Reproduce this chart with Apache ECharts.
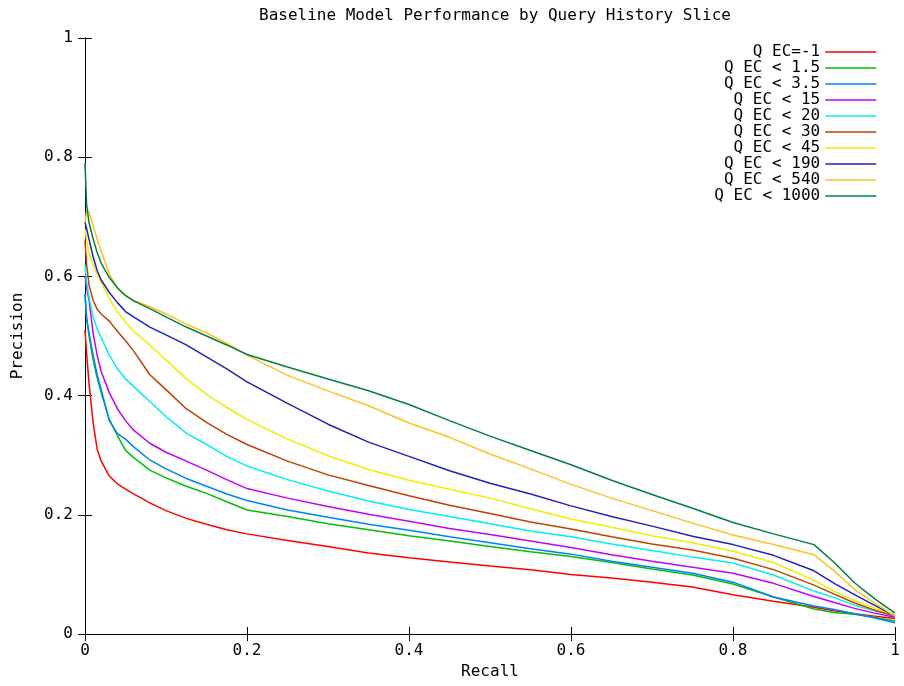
<!DOCTYPE html>
<html>
<head>
<meta charset="utf-8">
<script src="https://cdn.jsdelivr.net/npm/echarts@6/dist/echarts.min.js"></script>
<style>html,body{margin:0;padding:0;background:#fff;}#chart{width:904px;height:686px;}</style>
</head>
<body>
<div id="chart"></div>
<script>
var recall = [0, 0.002, 0.005, 0.01, 0.015, 0.02, 0.03, 0.04, 0.05, 0.06, 0.08, 0.1, 0.125, 0.15, 0.175, 0.2, 0.25, 0.3, 0.35, 0.4, 0.45, 0.5, 0.55, 0.6, 0.65, 0.7, 0.75, 0.8, 0.85, 0.9, 0.925, 0.95, 0.975, 1.0];

var seriesNames = ['Q EC=-1', 'Q EC < 1.5', 'Q EC < 3.5', 'Q EC < 15', 'Q EC < 20', 'Q EC < 30', 'Q EC < 45', 'Q EC < 190', 'Q EC < 540', 'Q EC < 1000'];
var seriesColors = ['#ff0000', '#00c000', '#0080ff', '#c000ff', '#00eeee', '#c04000', '#eeee00', '#2020c0', '#ffc020', '#008040'];

var precEcM1 = [0.51, 0.47, 0.42, 0.355, 0.31, 0.29, 0.265, 0.252, 0.243, 0.235, 0.22, 0.207, 0.194, 0.184, 0.175, 0.168, 0.157, 0.147, 0.136, 0.128, 0.121, 0.114, 0.108, 0.1, 0.094, 0.087, 0.079, 0.066, 0.055, 0.045, 0.039, 0.034, 0.03, 0.026];
var precEc1_5 = [0.57, 0.53, 0.5, 0.46, 0.43, 0.405, 0.36, 0.333, 0.308, 0.296, 0.275, 0.262, 0.248, 0.236, 0.222, 0.208, 0.197, 0.185, 0.175, 0.165, 0.156, 0.147, 0.138, 0.13, 0.12, 0.109, 0.099, 0.084, 0.062, 0.042, 0.036, 0.033, 0.028, 0.022];
var precEc3_5 = [0.57, 0.53, 0.505, 0.468, 0.435, 0.41, 0.358, 0.336, 0.327, 0.314, 0.292, 0.277, 0.261, 0.248, 0.235, 0.224, 0.208, 0.196, 0.184, 0.174, 0.163, 0.153, 0.143, 0.134, 0.122, 0.112, 0.102, 0.087, 0.062, 0.047, 0.041, 0.034, 0.027, 0.019];
var precEc15 = [0.6, 0.58, 0.56, 0.505, 0.468, 0.44, 0.405, 0.378, 0.358, 0.342, 0.32, 0.305, 0.29, 0.275, 0.259, 0.244, 0.228, 0.214, 0.201, 0.189, 0.177, 0.167, 0.156, 0.145, 0.133, 0.122, 0.112, 0.102, 0.085, 0.063, 0.053, 0.043, 0.035, 0.028];
var precEc20 = [0.62, 0.59, 0.565, 0.532, 0.512, 0.497, 0.468, 0.445, 0.428, 0.415, 0.39, 0.365, 0.337, 0.318, 0.298, 0.282, 0.259, 0.24, 0.223, 0.209, 0.197, 0.185, 0.173, 0.163, 0.151, 0.14, 0.129, 0.119, 0.099, 0.072, 0.061, 0.048, 0.039, 0.03];
var precEc30 = [0.66, 0.62, 0.585, 0.56, 0.545, 0.537, 0.525, 0.508, 0.492, 0.475, 0.435, 0.41, 0.378, 0.355, 0.335, 0.318, 0.29, 0.267, 0.249, 0.232, 0.216, 0.202, 0.188, 0.176, 0.163, 0.151, 0.141, 0.127, 0.108, 0.082, 0.067, 0.052, 0.04, 0.03];
var precEc45 = [0.68, 0.66, 0.64, 0.62, 0.603, 0.59, 0.563, 0.541, 0.523, 0.508, 0.485, 0.46, 0.428, 0.402, 0.38, 0.36, 0.327, 0.299, 0.276, 0.258, 0.243, 0.228, 0.21, 0.193, 0.179, 0.165, 0.153, 0.139, 0.12, 0.09, 0.072, 0.056, 0.043, 0.032];
var precEc190 = [0.69, 0.68, 0.662, 0.633, 0.61, 0.594, 0.573, 0.556, 0.541, 0.532, 0.515, 0.502, 0.485, 0.465, 0.445, 0.423, 0.387, 0.352, 0.322, 0.298, 0.274, 0.253, 0.235, 0.215, 0.197, 0.181, 0.164, 0.15, 0.132, 0.106, 0.085, 0.066, 0.048, 0.03];
var precEc540 = [0.69, 0.71, 0.708, 0.685, 0.663, 0.642, 0.604, 0.58, 0.567, 0.56, 0.549, 0.537, 0.52, 0.505, 0.488, 0.468, 0.434, 0.408, 0.383, 0.354, 0.33, 0.302, 0.277, 0.251, 0.228, 0.207, 0.186, 0.166, 0.15, 0.133, 0.106, 0.075, 0.052, 0.03];
var precEc1000 = [0.79, 0.72, 0.69, 0.663, 0.64, 0.622, 0.598, 0.581, 0.568, 0.559, 0.546, 0.532, 0.515, 0.5, 0.485, 0.469, 0.448, 0.428, 0.408, 0.385, 0.358, 0.332, 0.308, 0.284, 0.258, 0.234, 0.211, 0.187, 0.168, 0.15, 0.12, 0.086, 0.059, 0.035];

var precisionLists = [precEcM1, precEc1_5, precEc3_5, precEc15, precEc20, precEc30, precEc45, precEc190, precEc540, precEc1000];

var FONT = 'DejaVu Sans Mono';
var FS = 16;

function pairs(ys) { return recall.map(function (r, i) { return [r, ys[i]]; }); }

var series = seriesNames.map(function (n, i) {
  return {
    name: n, type: 'line', data: pairs(precisionLists[i]),
    xAxisIndex: 0, yAxisIndex: 0,
    symbol: 'none', showSymbol: false, smooth: false,
    lineStyle: { color: seriesColors[i], width: 1.5 },
    itemStyle: { color: seriesColors[i] },
    emphasis: { disabled: true }
  };
});

var tickStyle = { inside: true, length: 7, lineStyle: { color: '#000', width: 1 } };
var lineStyleAxis = { show: true, lineStyle: { color: '#000', width: 1 } };

var chart = echarts.init(document.getElementById('chart'), null, { renderer: 'canvas' });
chart.setOption({
  animation: false,
  backgroundColor: '#fff',
  textStyle: { fontFamily: FONT },
  title: {
    text: 'Baseline Model Performance by Query History Slice',
    left: 490, top: 3, textAlign: 'center',
    textStyle: { fontFamily: FONT, fontSize: FS, fontWeight: 'normal', color: '#000' }
  },
  legend: {
    orient: 'vertical', right: 22, top: 39,
    align: 'right', itemWidth: 51, itemHeight: 16, itemGap: 0,
    data: seriesNames,
    itemStyle: { opacity: 0 },
    lineStyle: { width: 1.5 },
    textStyle: { fontFamily: FONT, fontSize: FS, color: '#000', lineHeight: 16 },
    selectedMode: false
  },
  grid: { left: 85, right: 9, top: 38, bottom: 52, containLabel: false, outerBoundsMode: 'none' },
  xAxis: [{
    type: 'value', min: 0, max: 1, interval: 0.2, position: 'bottom',
    name: 'Recall', nameLocation: 'middle', nameGap: 30,
    nameTextStyle: { fontFamily: FONT, fontSize: FS, color: '#000' },
    axisLine: lineStyleAxis, axisTick: tickStyle,
    axisLabel: { fontFamily: FONT, fontSize: FS, color: '#000', margin: 9 },
    splitLine: { show: false }
  }, {
    type: 'value', min: 0, max: 1, interval: 0.2, position: 'top',
    axisLine: lineStyleAxis, axisTick: tickStyle,
    axisLabel: { show: false }, splitLine: { show: false }
  }],
  yAxis: [{
    type: 'value', min: 0, max: 1, interval: 0.2, position: 'left',
    name: 'Precision', nameLocation: 'middle', nameGap: 59, nameRotate: 90,
    nameTextStyle: { fontFamily: FONT, fontSize: FS, color: '#000' },
    axisLine: lineStyleAxis, axisTick: tickStyle,
    axisLabel: { fontFamily: FONT, fontSize: FS, color: '#000', margin: 12 },
    splitLine: { show: false }
  }, {
    type: 'value', min: 0, max: 1, interval: 0.2, position: 'right',
    axisLine: lineStyleAxis, axisTick: tickStyle,
    axisLabel: { show: false }, splitLine: { show: false }
  }],
  series: series
});
</script>
</body>
</html>
